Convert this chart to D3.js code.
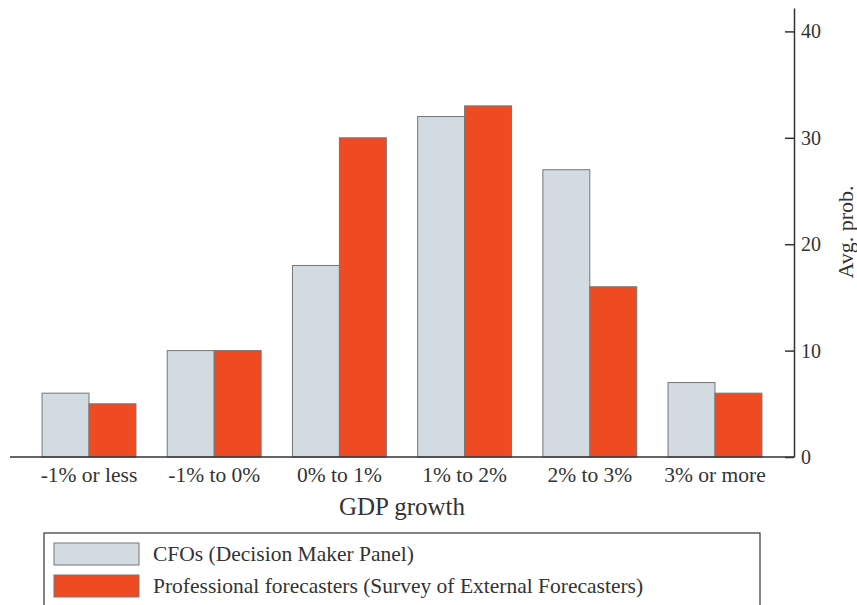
<!DOCTYPE html>
<html>
<head>
<meta charset="utf-8">
<script src="https://cdn.jsdelivr.net/npm/d3@7"></script>
<style>
  body { margin: 0; background: #fff; }
  svg text { font-family: "Liberation Serif", "DejaVu Serif", serif; fill: #333; }
</style>
</head>
<body>
<svg id="chart"></svg>
<script>
// data
var categories = ["-1% or less", "-1% to 0%", "0% to 1%", "1% to 2%", "2% to 3%", "3% or more"];
var seriesNames = ["CFOs (Decision Maker Panel)", "Professional forecasters (Survey of External Forecasters)"];
var cfoValues = [6, 10, 18, 32, 27, 7];
var sefValues = [5, 10, 30, 33, 16, 6];
var yTicks = [0, 10, 20, 30, 40];

var w = 857, h = 605;
var colors = ["#d2dbe2", "#ee4b22"];

var svg = d3.select("#chart").attr("width", w).attr("height", h);

var x = d3.scaleBand()
  .domain(categories)
  .range([26.4, 777.6])
  .paddingInner(0.25)
  .paddingOuter(0.125);

var xs = d3.scaleBand()
  .domain([0, 1])
  .range([0, x.bandwidth()]);

var y = d3.scaleLinear()
  .domain([0, 42.2])
  .range([457, 8]);

var rows = categories.map(function(c, i) {
  return { cat: c, vals: [cfoValues[i], sefValues[i]] };
});

var groups = svg.append("g").selectAll("g")
  .data(rows)
  .enter()
  .append("g")
  .attr("transform", function(d) { return "translate(" + x(d.cat) + ",0)"; });

groups.selectAll("rect")
  .data(function(d) { return d.vals; })
  .enter()
  .append("rect")
  .attr("x", function(d, i) { return xs(i); })
  .attr("y", function(d) { return y(d); })
  .attr("width", xs.bandwidth())
  .attr("height", function(d) { return y(0) - y(d); })
  .attr("fill", function(d, i) { return colors[i]; })
  .attr("stroke", "#777")
  .attr("stroke-width", 1);

// x baseline
svg.append("line")
  .attr("x1", 10).attr("x2", 794)
  .attr("y1", y(0)).attr("y2", y(0))
  .attr("stroke", "#333").attr("stroke-width", 1.5);

// right y axis
var yAxis = d3.axisRight(y).tickValues(yTicks).tickSize(0).tickPadding(7);
var ya = svg.append("g")
  .attr("transform", "translate(794,0)")
  .call(yAxis);
ya.select(".domain").attr("stroke", "#333").attr("stroke-width", 1.5);
ya.selectAll(".tick line").attr("x2", -9).attr("stroke", "#333").attr("stroke-width", 1.5);
ya.selectAll(".tick text")
  .attr("font-size", 20)
  .style("font-family", "'Liberation Serif', serif")
  .attr("fill", "#333");

// x tick labels
svg.append("g").selectAll("text")
  .data(categories)
  .enter()
  .append("text")
  .attr("x", function(d) { return x(d) + x.bandwidth() / 2; })
  .attr("y", 482)
  .attr("text-anchor", "middle")
  .attr("font-size", 21.5)
  .text(function(d) { return d; });

svg.append("text")
  .attr("x", 402)
  .attr("y", 515)
  .attr("text-anchor", "middle")
  .attr("font-size", 25)
  .text("GDP growth");

svg.append("text")
  .attr("transform", "translate(853,232) rotate(-90)")
  .attr("text-anchor", "middle")
  .attr("font-size", 22)
  .text("Avg. prob.");

// legend
svg.append("rect")
  .attr("x", 44).attr("y", 533)
  .attr("width", 716).attr("height", 90)
  .attr("fill", "none")
  .attr("stroke", "#333").attr("stroke-width", 1.2);

var leg = svg.append("g").selectAll("g")
  .data(seriesNames)
  .enter()
  .append("g")
  .attr("transform", function(d, i) { return "translate(54," + (543 + i * 32) + ")"; });

leg.append("rect")
  .attr("width", 85).attr("height", 22)
  .attr("fill", function(d, i) { return colors[i]; })
  .attr("stroke", "#777");

leg.append("text")
  .attr("x", 99)
  .attr("y", 18)
  .attr("font-size", 21.5)
  .text(function(d) { return d; });
</script>
</body>
</html>
